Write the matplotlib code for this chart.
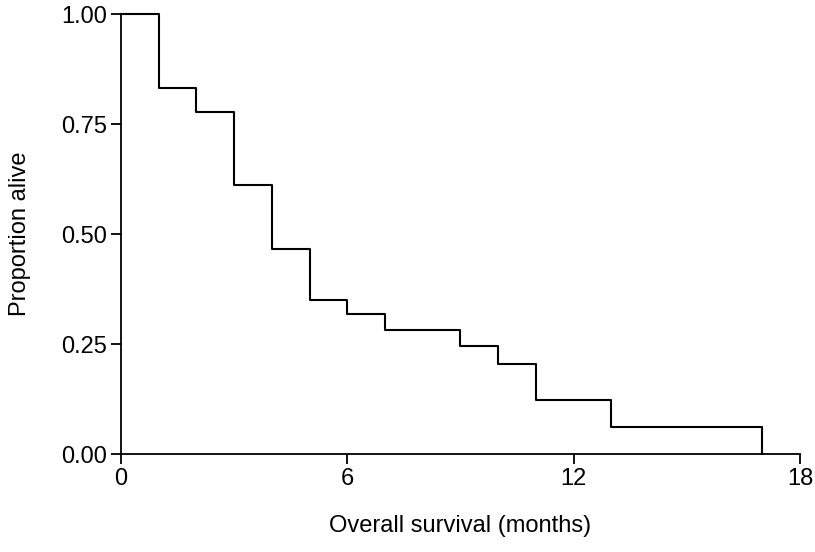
import matplotlib.pyplot as plt

# Kaplan-Meier estimate
months = [0, 1, 2, 3, 4, 5, 6, 7, 9, 10, 11, 13, 17]
survival = [1.0, 0.833, 0.778, 0.611, 0.466, 0.349, 0.318, 0.283, 0.246, 0.205, 0.123, 0.061, 0.0]
x_ticks = [0, 6, 12, 18]
y_ticks = [0.0, 0.25, 0.5, 0.75, 1.0]
y_tick_labels = ["0.00", "0.25", "0.50", "0.75", "1.00"]

plt.rcParams['font.family'] = ['Liberation Sans', 'DejaVu Sans']


def main():
    fig = plt.figure(figsize=(8.15, 5.52), dpi=100)
    ax = fig.add_axes([0.1485, 0.1775, 0.833, 0.797])

    ax.step(months, survival, where='post', color='black', linewidth=1.5, clip_on=False)

    ax.set_xlim(0, 18)
    ax.set_ylim(0, 1)
    ax.set_xticks(x_ticks)
    ax.set_yticks(y_ticks)
    ax.set_yticklabels(y_tick_labels)

    for side in ['top', 'right']:
        ax.spines[side].set_visible(False)
    for side in ['left', 'bottom']:
        ax.spines[side].set_linewidth(1.3)

    ax.tick_params(direction='out', length=7, width=1.3, labelsize=17, pad=3)
    ax.set_xlabel("Overall survival (months)", fontsize=17, labelpad=18)
    ax.set_ylabel("Proportion alive", fontsize=17, labelpad=22)

    fig.savefig("out.png", dpi=100)


if __name__ == "__main__":
    main()
